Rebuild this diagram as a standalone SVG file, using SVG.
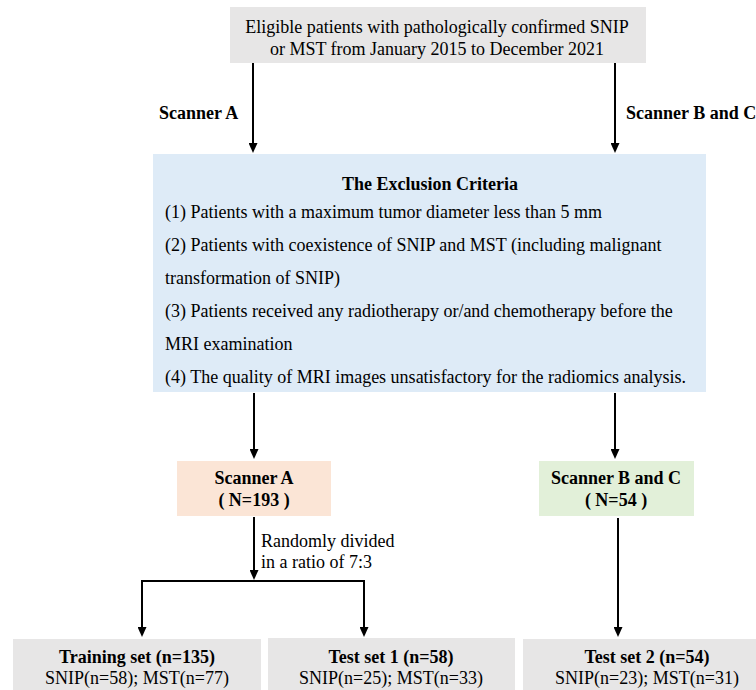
<svg xmlns="http://www.w3.org/2000/svg" width="756" height="690" viewBox="0 0 756 690" font-family="'Liberation Serif','Times New Roman',Times,'DejaVu Serif',serif">
<style>
text{font-family:"Liberation Serif","Times New Roman",Times,"DejaVu Serif",serif;font-size:18px;fill:#000}
.b{font-weight:bold}
.c{text-anchor:middle}
.gray{fill:#e7e6e6}
.blue{fill:#deebf7}
.orange{fill:#fbe5d6}
.green{fill:#e2f0d9}
.ln{stroke:#000;stroke-width:2;fill:none}
</style>
<defs>
<marker id="ah" markerUnits="userSpaceOnUse" markerWidth="10" markerHeight="9" viewBox="0 0 10 9" refX="0" refY="4.5" orient="auto">
<path d="M0,0 L10,4.5 L0,9 Z" fill="#000"/>
</marker>
</defs>
<rect width="756" height="690" fill="#fff"/>
<g id="eligible">
<rect class="gray" x="230" y="7" width="416" height="56"/>
<text class="c" x="437" y="33">Eligible patients with pathologically confirmed SNIP</text>
<text class="c" x="437" y="55">or MST from January 2015 to December 2021</text>
</g>
<g id="exclusion">
<rect class="blue" x="153" y="154" width="553" height="238"/>
<text class="c b" x="430" y="190">The Exclusion Criteria</text>
<text x="165" y="218">(1) Patients with a maximum tumor diameter less than 5 mm</text>
<text x="165" y="251">(2) Patients with coexistence of SNIP and MST (including malignant</text>
<text x="165" y="284">transformation of SNIP)</text>
<text x="165" y="317">(3) Patients received any radiotherapy or/and chemotherapy before the</text>
<text x="165" y="350">MRI examination</text>
<text x="165" y="383">(4) The quality of MRI images unsatisfactory for the radiomics analysis.</text>
</g>
<g id="scannerA">
<rect class="orange" x="177" y="461" width="154" height="55"/>
<text class="c b" x="254" y="484">Scanner A</text>
<text class="c b" x="254" y="506">( N=193 )</text>
</g>
<g id="scannerBC">
<rect class="green" x="539" y="461" width="155" height="55"/>
<text class="c b" x="616" y="484">Scanner B and C</text>
<text class="c b" x="616" y="506">( N=54 )</text>
</g>
<g id="training">
<rect class="gray" x="13" y="639" width="248" height="51"/>
<text class="c b" x="137" y="663">Training set (n=135)</text>
<text class="c" x="137" y="684">SNIP(n=58); MST(n=77)</text>
</g>
<g id="test1">
<rect class="gray" x="268" y="638" width="247" height="52"/>
<text class="c b" x="391" y="663">Test set 1 (n=58)</text>
<text class="c" x="391" y="684">SNIP(n=25); MST(n=33)</text>
</g>
<g id="test2">
<rect class="gray" x="523" y="639" width="233" height="51"/>
<text class="c b" x="647" y="663">Test set 2 (n=54)</text>
<text class="c" x="647" y="684">SNIP(n=23); MST(n=31)</text>
</g>
<g id="connectors">
<path class="ln" d="M253,63 V143" marker-end="url(#ah)"/>
<path class="ln" d="M615,63 V143" marker-end="url(#ah)"/>
<path class="ln" d="M254,393 V449" marker-end="url(#ah)"/>
<path class="ln" d="M615,393 V449" marker-end="url(#ah)"/>
<path class="ln" d="M254,517 V570" marker-end="url(#ah)"/>
<path class="ln" d="M141,581 H365"/>
<path class="ln" d="M142,581 V627" marker-end="url(#ah)"/>
<path class="ln" d="M364,581 V627" marker-end="url(#ah)"/>
<path class="ln" d="M618,518 V627" marker-end="url(#ah)"/>
</g>
<g id="labels">
<text class="b" x="159" y="119">Scanner A</text>
<text class="b" x="626" y="119">Scanner B and C</text>
<text x="261" y="547">Randomly divided</text>
<text x="261" y="568">in a ratio of 7:3</text>
</g>
</svg>
